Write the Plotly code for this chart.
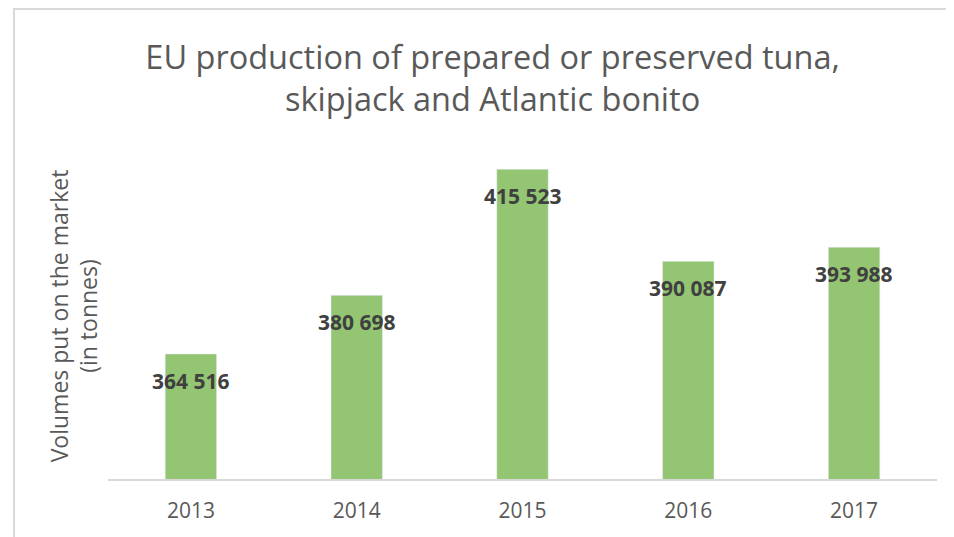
import plotly.graph_objects as go

years = ["2013", "2014", "2015", "2016", "2017"]
volumes = [364516, 380698, 415523, 390087, 393988]
labels = [f"{v:,}".replace(",", " ") for v in volumes]

fig = go.Figure()
fig.add_trace(go.Bar(x=years, y=volumes, marker_color="#93C572",
                     hoverinfo="skip"))

# category axis: annotation x given as category index
for i, (y, t) in enumerate(zip(volumes, labels)):
    fig.add_annotation(x=i, y=y, xref="x", yref="y", text=f"<b>{t}</b>", showarrow=False, yshift=-27,
                       font=dict(family="Open Sans", size=21, color="#404040"))

fig.add_shape(type="rect", xref="paper", yref="paper", x0=-0.1134, x1=1.1, y0=-0.4, y1=1.442,
              line=dict(color="#D9D9D9", width=2), layer="below")

fig.update_layout(
    width=954, height=537,
    margin=dict(l=100, r=25, t=145, b=66, autoexpand=False),
    paper_bgcolor="white", plot_bgcolor="white",
    showlegend=False,
    bargap=0.69,
    title=dict(text="EU production of prepared or preserved tuna,<br>skipjack and Atlantic bonito",
               x=0.508, xanchor="center", y=0.887, yanchor="top",
               font=dict(family="Open Sans", size=32.5, color="#595959")),
    xaxis=dict(type="category", categoryorder="array", categoryarray=years, range=[-0.5, 4.5],
               showline=True, linecolor="#D9D9D9", linewidth=2, ticks="outside", ticklen=12,
               tickcolor="rgba(0,0,0,0)",
               tickfont=dict(family="Open Sans", size=21, color="#595959"), showgrid=False),
    yaxis=dict(range=[330000, 420000], showticklabels=False, showgrid=False, zeroline=False,
               ticks="", title=dict(text="Volumes put on the market<br>(in tonnes)",
                                   font=dict(family="Open Sans", size=23, color="#595959"),
                                   standoff=2)),
)

fig.write_html("out.html")
